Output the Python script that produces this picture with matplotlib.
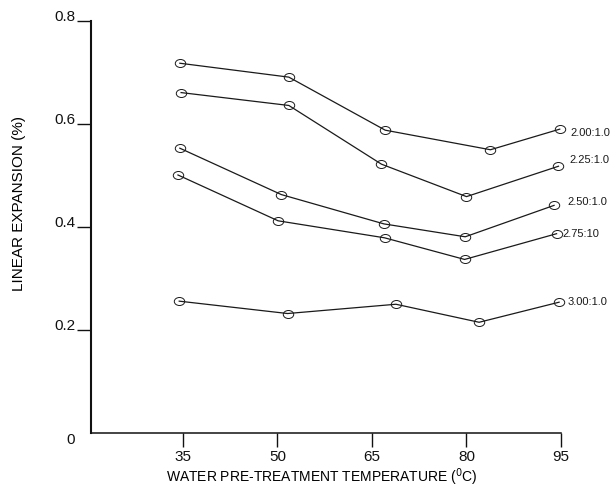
import numpy as np
import matplotlib
matplotlib.use("Agg")
import matplotlib.pyplot as plt
from matplotlib.path import Path
from matplotlib.transforms import Affine2D

plt.rcParams['font.family'] = ['Liberation Sans', 'DejaVu Sans']

# temperatures as drawn (points sit a little off the ticks in the original)
temps = {
    '2.00:1.0': [34.5, 51.8, 67.1, 83.8, 94.8],
    '2.25:1.0': [34.7, 51.8, 66.5, 80.0, 94.6],
    '2.50:1.0': [34.5, 50.6, 66.9, 79.8, 93.9],
    '2.75:10':  [34.2, 50.1, 67.0, 79.7, 94.3],
    '3.00:1.0': [34.4, 51.6, 68.8, 82.0, 94.7],
}
expansion = {
    '2.00:1.0': [0.718, 0.691, 0.588, 0.550, 0.590],
    '2.25:1.0': [0.661, 0.636, 0.522, 0.459, 0.518],
    '2.50:1.0': [0.553, 0.463, 0.406, 0.381, 0.442],
    '2.75:10':  [0.501, 0.412, 0.379, 0.337, 0.387],
    '3.00:1.0': [0.256, 0.232, 0.250, 0.215, 0.254],
}
# label offsets from last point, in pixels
label_offsets = {
    '2.00:1.0': (11, -4),
    '2.25:1.0': (11, 6),
    '2.50:1.0': (13, 3),
    '2.75:10':  (6, 0),
    '3.00:1.0': (8, 0),
}

xticks = [35, 50, 65, 80, 95]
yticks = [0, 0.2, 0.4, 0.6, 0.8]
ytick_labels = ['0', '0.2', '0.4', '0.6', '0.8']

# open ellipse marker
circ = Path.unit_circle()
ellipse = Affine2D().scale(1.3, 1.0).transform_path(circ)

fig = plt.figure(figsize=(6.13, 4.87), dpi=100)
ax = fig.add_axes([91/613, 1-433/487, 470/613, 412/487])

for name in expansion:
    ax.plot(temps[name], expansion[name], color='#1a1a1a', lw=0.9,
            marker=ellipse, ms=7.5, mfc='none', mec='#1a1a1a', mew=0.7,
            clip_on=False)
    dx, dy = label_offsets[name]
    ax.annotate(name, (temps[name][-1], expansion[name][-1]),
                xytext=(dx, dy), textcoords='offset pixels',
                ha='left', va='center', fontsize=8, color='#1a1a1a',
                annotation_clip=False)

ax.set_xlim(20.4, 95)
ax.set_ylim(0, 0.8)
ax.set_xticks(xticks)
ax.set_yticks(yticks)
ax.set_yticklabels(ytick_labels)

for s in ['top', 'right']:
    ax.spines[s].set_visible(False)
for s in ['left', 'bottom']:
    ax.spines[s].set_linewidth(1.5)
    ax.spines[s].set_color('#111111')
ax.spines['bottom'].set_linewidth(1.1)

ax.tick_params(axis='x', direction='out', length=10, width=1.0, pad=2,
               labelsize=11, colors='#111111')
ax.tick_params(axis='y', direction='out', length=10, width=1.0, pad=1.5,
               labelsize=11, colors='#111111')
ax.yaxis.get_major_ticks()[0].tick1line.set_visible(False)

for lbl in ax.get_yticklabels():
    lbl.set_verticalalignment('baseline')
ax.get_yticklabels()[0].set_verticalalignment('top')

ax.set_xlabel('WATER PRE-TREATMENT TEMPERATURE ($^{0}$C)', fontsize=10,
              va='center', ha='center')
ax.set_ylabel('LINEAR EXPANSION (%)', fontsize=11, va='center', ha='center')
ax.xaxis.set_label_coords(0.491, -0.107)
ax.yaxis.set_label_coords(-0.153, 0.558)

fig.savefig('out.png', dpi=100)
